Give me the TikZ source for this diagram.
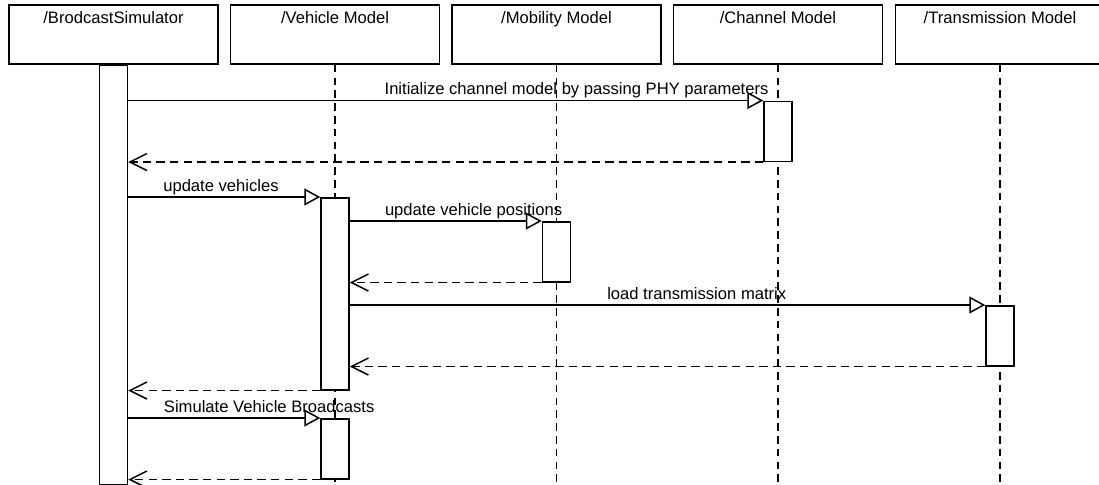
\documentclass[tikz,border=0pt]{standalone}
\usepackage{fontspec}
\setmainfont{Liberation Sans}
\usetikzlibrary{arrows.meta, positioning, calc}

\tikzset{
  lifehead/.style={draw, minimum width=104.5pt, minimum height=29.5pt, inner sep=0pt,
    label={[anchor=north, inner sep=0pt, yshift=-3.2pt]north:#1}},
  actbar/.style={draw, fill=white, minimum width=14pt, inner sep=0pt, anchor=north},
  lifeline/.style={dash pattern=on 3.8pt off 2.6pt},
  call/.style={-{Triangle[open, length=8pt, width=8.5pt]}},
  reply/.style={dash pattern=on 4.2pt off 2.6pt, -{Straight Barb[length=8.5pt, width=8.5pt]}},
  msg/.style={anchor=base, inner sep=0pt, yshift=3pt}
}

\begin{document}
\begin{tikzpicture}[x=0.5pt, y=-0.5pt, line width=0.75pt, font=\fontsize{8.3}{10}\selectfont]
    \useasboundingbox (0,0) rectangle (1099,484);

    % heads
    \node[lifehead=/BrodcastSimulator] (sim) at (113.5,34.5) {};
    \node[lifehead=/Vehicle Model] (veh) at (335,34.5) {};
    \node[lifehead=/Mobility Model] (mob) at (556.5,34.5) {};
    \node[lifehead=/Channel Model] (chan) at (778,34.5) {};
    \node[lifehead=/Transmission Model] (trans) at (1000,34.5) {};

    % lifelines
    \foreach \obj in {sim, veh, mob, chan, trans}
        \draw[lifeline] (\obj.south) -- (\obj.south |- 0,484);

    % activations
    \node[actbar, minimum height=209.5pt] (simbar) at (sim.south) {};
    \node[actbar, minimum height=30pt] (chanbar) at (chan |- 0,100.5) {};
    \node[actbar, minimum height=96pt] (vehbar) at (veh |- 0,197) {};
    \node[actbar, minimum height=30pt] (mobbar) at (mob |- 0,221) {};
    \node[actbar, minimum height=30pt] (transbar) at (trans |- 0,305) {};
    \node[actbar, minimum height=30pt] (vehbarb) at (veh |- 0,418) {};

    % messages
    \draw[call] (simbar.east |- chanbar.north) -- node[msg, pos=0.706] {Initialize channel model by passing PHY parameters} (chanbar.north west);
    \draw[reply] (chanbar.south west) -- (simbar.east |- chanbar.south);

    \draw[call] (simbar.east |- vehbar.north) -- node[msg, pos=0.483] {update vehicles} (vehbar.north west);
    \draw[call] (vehbar.east |- mobbar.north) -- node[msg, pos=0.645] {update vehicle positions} (mobbar.north west);
    \draw[reply] (mobbar.south west) -- (vehbar.east |- mobbar.south);
    \draw[call] (vehbar.east |- transbar.north) -- node[msg, pos=0.546] {load transmission matrix} (transbar.north west);
    \draw[reply] (transbar.south west) -- (vehbar.east |- transbar.south);
    \draw[reply] (vehbar.south west) -- (simbar.east |- vehbar.south);

    \draw[call] (simbar.east |- vehbarb.north) -- node[msg, pos=0.734] {Simulate Vehicle Broadcasts} (vehbarb.north west);
    \draw[reply] (vehbarb.south west) -- (simbar.east |- vehbarb.south);
\end{tikzpicture}
\end{document}
